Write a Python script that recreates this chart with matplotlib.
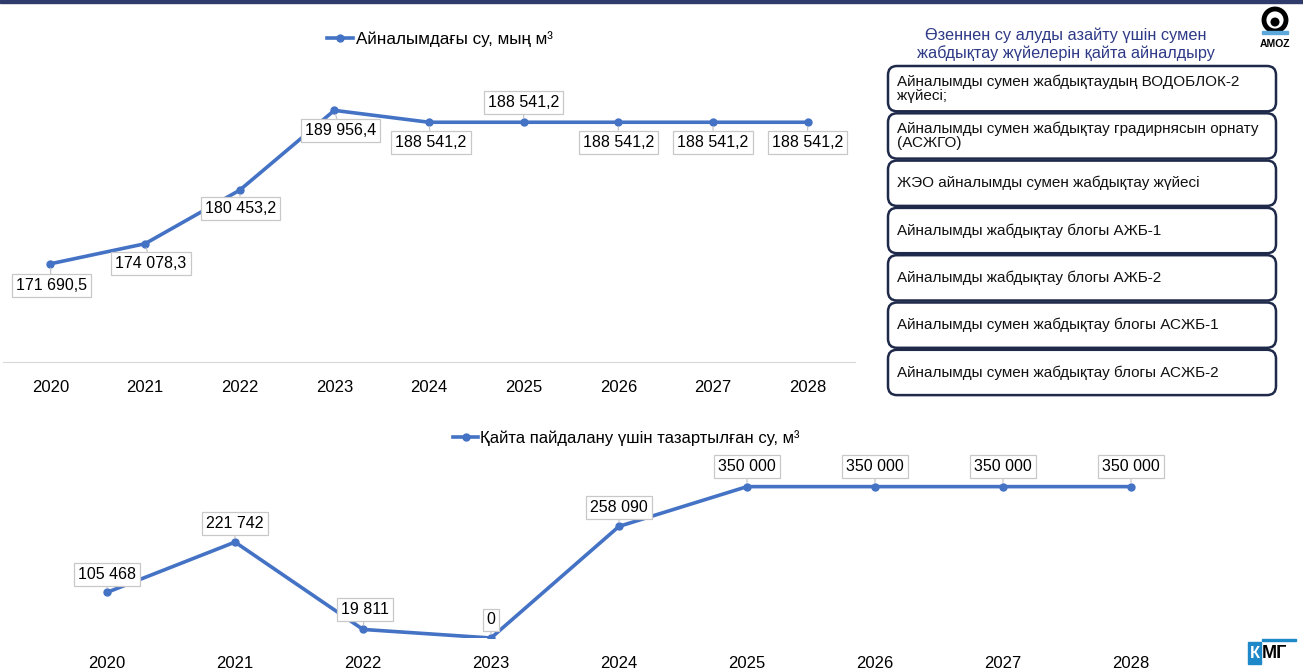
import matplotlib
matplotlib.use("Agg")
import matplotlib.pyplot as plt
from matplotlib.lines import Line2D
from matplotlib.patches import FancyBboxPatch, Rectangle, Circle

plt.rcParams["font.family"] = ["Liberation Sans", "DejaVu Sans"]

W, H = 1303, 669

years = ["2020", "2021", "2022", "2023", "2024", "2025", "2026", "2027", "2028"]
circ_water = [171690.5, 174078.3, 180453.2, 189956.4, 188541.2, 188541.2, 188541.2, 188541.2, 188541.2]
reuse_water = [105468, 221742, 19811, 0, 258090, 350000, 350000, 350000, 350000]

circ_label = "Айналымдағы су, мың м³"
reuse_label = "Қайта пайдалану үшін тазартылған су, м³"

panel_title = "Өзеннен су алуды азайту үшін сумен\nжабдықтау жүйелерін қайта айналдыру"
systems = [
    "Айналымды сумен жабдықтаудың ВОДОБЛОК-2\nжүйесі;",
    "Айналымды сумен жабдықтау градирнясын орнату\n(АСЖГО)",
    "ЖЭО айналымды сумен жабдықтау жүйесі",
    "Айналымды жабдықтау блогы АЖБ-1",
    "Айналымды жабдықтау блогы АЖБ-2",
    "Айналымды сумен жабдықтау блогы АСЖБ-1",
    "Айналымды сумен жабдықтау блогы АСЖБ-2",
]

# label offsets in pixels (x, y) from each point
circ_offsets = [(1, -22), (6, -20), (1, -18), (6, -20), (2, -20), (0, 20), (0, -20), (0, -20), (0, -20)]
reuse_offsets = [(0, 18), (0, 19), (2, 20), (0, 18), (0, 19), (0, 20), (0, 20), (0, 20), (0, 20)]

BLUE = "#4472C4"
NAVY = "#1F2A4A"


def px_rect(l, t, r, b):
    return [l / W, 1 - b / H, (r - l) / W, (b - t) / H]


def fmt1(v):
    return f"{v:,.1f}".replace(",", " ").replace(".", ",")


def fmt0(v):
    return f"{v:,.0f}".replace(",", " ")


def draw_line_chart(ax, values, labels, offsets, ylim):
    x = range(len(years))
    ax.plot(x, values, color=BLUE, lw=2.6, marker="o", ms=5, zorder=3)
    ax.set_xlim(-0.5, len(years) - 0.5)
    ax.set_ylim(*ylim)
    ax.set_xticks(list(x))
    ax.set_xticklabels(years, fontsize=12)
    ax.tick_params(axis="x", length=0, pad=13)
    ax.set_yticks([])
    for s in ["top", "right", "left"]:
        ax.spines[s].set_visible(False)
    ax.patch.set_alpha(0)
    for i, (v, lab, off) in enumerate(zip(values, labels, offsets)):
        ax.annotate(lab, (i, v), xytext=off, textcoords="offset pixels",
                    ha="center", va="center", fontsize=11.5, zorder=4,
                    bbox=dict(boxstyle="square,pad=0.25", fc="white", ec="#C8C8C8", lw=0.9),
                    arrowprops=dict(arrowstyle="-", color="#BFBFBF", lw=0.8, shrinkA=0, shrinkB=3))


fig = plt.figure(figsize=(W / 100, H / 100), dpi=100)

# top chart
ax1 = fig.add_axes(px_rect(3, 26, 855, 362))
draw_line_chart(ax1, circ_water, [fmt1(v) for v in circ_water], circ_offsets, (160000, 200000))
ax1.spines["bottom"].set_color("#D9D9D9")

# bottom chart
ax2 = fig.add_axes(px_rect(43, 465, 1195, 638))
draw_line_chart(ax2, reuse_water, [fmt0(v) for v in reuse_water], reuse_offsets, (0, 400000))
ax2.spines["bottom"].set_visible(False)

h1 = Line2D([], [], color=BLUE, lw=2.6, marker="o", ms=5)
fig.legend([h1], [circ_label], loc="center left", bbox_to_anchor=(312 / W, 1 - 39 / H),
           frameon=False, fontsize=12.3, handlelength=1.5, handletextpad=0.15)
fig.legend([h1], [reuse_label], loc="center left", bbox_to_anchor=(438 / W, 1 - 438 / H),
           frameon=False, fontsize=12, handlelength=1.5, handletextpad=0.15)

# overlay in pixel coordinates for the right panel and decorations
ov = fig.add_axes([0, 0, 1, 1])
ov.set_xlim(0, W)
ov.set_ylim(H, 0)
ov.axis("off")
ov.patch.set_alpha(0)

ov.add_patch(Rectangle((0, 0), W, 3, color="#2F3B6B"))

ov.text(1066, 44, panel_title, ha="center", va="center", fontsize=11.7,
        color="#2E3A87", linespacing=1.15)

box_top, box_h = 65, 47.3
for i, s in enumerate(systems):
    t = box_top + i * box_h
    ov.add_patch(FancyBboxPatch((888, t + 1), 388, box_h - 2,
                                boxstyle="round,pad=0,rounding_size=9",
                                fc="white", ec=NAVY, lw=1.8))
    ov.text(897, t + box_h / 2, s, ha="left", va="center", fontsize=11,
            color="#111111", linespacing=1.05)

# AMOZ logo (approximation)
ov.add_patch(Circle((1275, 20), 11, fc="none", ec="black", lw=3.5))
ov.add_patch(Circle((1275, 22), 4.5, fc="black", ec="none"))
ov.add_patch(Rectangle((1262, 31), 26, 3, color="#5BA8DB"))
ov.text(1275, 44, "AMOZ", ha="center", va="center", fontsize=7.5, fontweight="bold")

# KMG logo (approximation)
ov.add_patch(Rectangle((1248, 642), 13, 22, color="#1E88C8"))
ov.text(1254.5, 653, "К", ha="center", va="center", fontsize=12, fontweight="bold", color="white")
ov.text(1262, 653, "МГ", ha="left", va="center", fontsize=13, fontweight="bold", color="black")
ov.add_patch(Rectangle((1262, 639), 34, 2, color="#1E88C8"))

fig.savefig("out.png", dpi=100)
